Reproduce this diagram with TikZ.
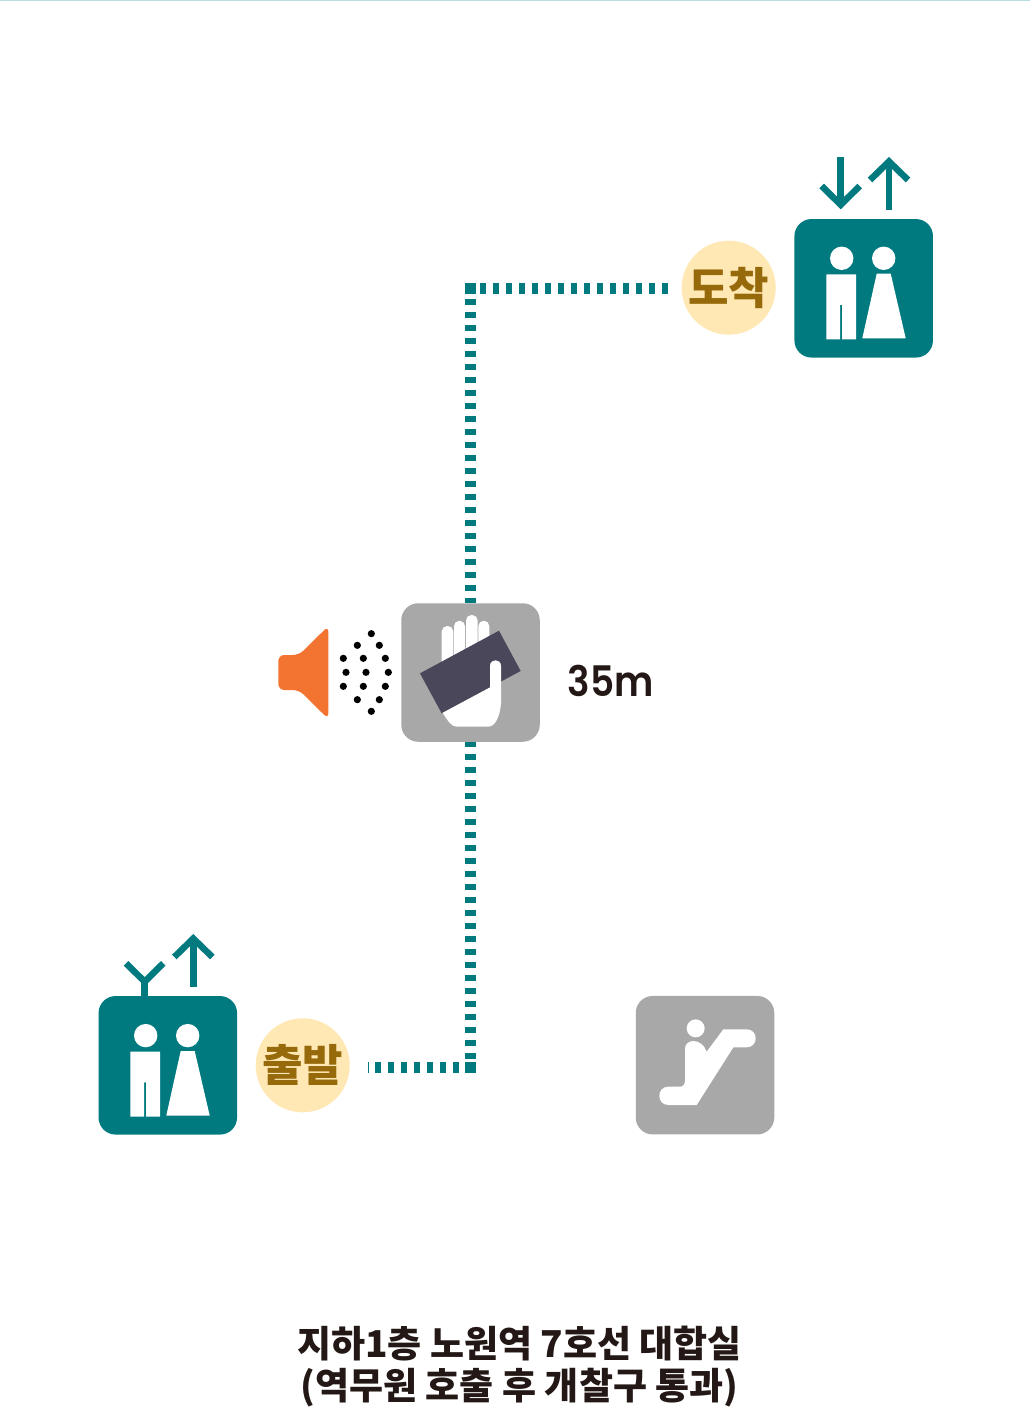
\documentclass[tikz,border=0pt]{standalone}
\usepackage{fontspec}
\usetikzlibrary{backgrounds}
\newfontfamily\korfont{Noto Sans CJK KR Black}
\newfontfamily\numfont{Poppins SemiBold}
\definecolor{tealc}{HTML}{007A7E}
\definecolor{greyc}{HTML}{A9A8A9}
\definecolor{badgec}{HTML}{FFE8B3}
\definecolor{badgetext}{HTML}{96690B}
\definecolor{cardc}{HTML}{4A475A}
\definecolor{orangec}{HTML}{F37430}
\definecolor{inkc}{HTML}{231815}
\definecolor{rulec}{HTML}{B5E0DF}
\tikzset{
  iconbox/.style={rectangle,rounded corners=17pt,minimum size=138.5pt,inner sep=0pt,draw=none},
  badge/.style={circle,minimum size=94pt,inner sep=0pt,fill=badgec,text=badgetext,font=\korfont\fontsize{44}{44}\selectfont},
  cornerdot/.style={rectangle,minimum size=11pt,inner sep=0pt,fill=tealc},
  route/.style={draw=tealc,line width=11pt,dash pattern=on 6pt off 7pt},
  liftarrow/.style={draw=tealc,line width=6.5pt,miter limit=10},
}
\newcommand{\liftpeople}[2]{%
  \begin{scope}[shift={(#1,#2)}]
    \fill[white] (47,39.3) circle[radius=11.7pt];
    \fill[white] (89,39.3) circle[radius=11.7pt];
    \fill[white] (31.6,55.3) -- (61.3,55.3) -- (61.3,120.3) -- (47.3,120.3) -- (47.3,86) -- (45.4,86) -- (45.4,120.3) -- (31.6,120.3) -- cycle;
    \fill[white] (82,54.7) -- (96,54.7) -- (111,119.3) -- (67.6,119.3) -- cycle;
  \end{scope}}
\begin{document}
\begin{tikzpicture}[x=1pt,y=-1pt]
\useasboundingbox (0,0) rectangle (1030,1420);
% icon boxes
\node[iconbox,fill=tealc] (liftTop) at (863.7,288.3) {};
\node[iconbox,fill=tealc] (liftBot) at (167.8,1065.3) {};
\node[iconbox,fill=greyc] (gate) at (470.5,672.5) {};
\node[iconbox,fill=greyc] (esc) at (705,1065.2) {};
% badges
\node[badge] (badgeArrive) at (728.7,287.7) {도착};
\node[badge] (badgeStart) at (302.7,1065.3) {출발};
% route
\node[cornerdot] (cornerA) at (470.5,288.5) {};
\node[cornerdot] (cornerB) at (470.5,1067.5) {};
\coordinate (arriveEnd) at (668,288.5);
\coordinate (startEnd) at (367.5,1067.5);
\begin{scope}[on background layer]
  \fill[white] (0,0) rectangle (1030,1420);
  \fill[rulec] (0,0) rectangle (1030,1);
  \draw[route,dash phase=3.5pt] (cornerA.center) -- (arriveEnd);
  \draw[route,dash phase=2.5pt] (cornerA.center) -- (gate.north);
  \draw[route,dash phase=1pt] (gate.south) -- (cornerB.center);
  \draw[route,dash phase=1.5pt] (cornerB.center) -- (startEnd);
\end{scope}
% people
\liftpeople{794.7}{219}
\liftpeople{98.7}{996.3}
% arrows, top lift
\draw[liftarrow] (840.7,157) -- (840.7,204);
\draw[liftarrow] (821.7,186) -- (840.7,204.8) -- (859.7,186);
\draw[liftarrow] (889,210) -- (889,162);
\draw[liftarrow] (870,180) -- (889,161.5) -- (908,180);
% arrows, bottom lift
\draw[liftarrow] (193.3,986.7) -- (193.3,939);
\draw[liftarrow] (174.3,957) -- (193.3,938.5) -- (212.3,957);
\draw[liftarrow] (144.7,996.5) -- (144.7,981.5);
\draw[liftarrow] (126,963.3) -- (144.7,981.7) -- (163.3,963.3);
% speaker and sound dots, hand
\begin{scope}[shift={(260,590)},x=0.33333pt,y=-0.33333pt]
  \fill[orangec,rounded corners=6pt] (55,195) -- (117,195) -- (205,108) -- (205,387) -- (117,300) -- (55,300) -- cycle;
  \foreach \px/\py in {334/131,292/166,358/166,250/205,310/205,376/205,258/247,318/247,385/247,250/289,310/289,376/289,292/329,358/329,334/364}
    \fill[black] (\px,\py) circle[radius=3.6pt];
  \foreach \xa/\xb/\yt in {545/580/108,582/615/92,618/653/75,655/688/92}
    \fill[white,rounded corners=5.5pt] (\xa,300) rectangle (\xb,\yt);
  \fill[cardc] (717,122) -- (782,243) -- (545,370) -- (480,250) -- cycle;
  \fill[white] (548,368.4) -- (690,292.3) -- (690,228) .. controls (690,205) and (723,205) .. (723,228) -- (723,340) .. controls (720,380) and (705,410) .. (685,410) -- (590,410) .. controls (575,410) and (565,395) .. (548,368.4) -- cycle;
\end{scope}
% escalator
\begin{scope}[shift={(625,985)},x=0.33333pt,y=-0.33333pt]
  \fill[white] (212,130) circle[radius=9pt];
  \fill[white] (365,133) -- (295,133) -- (245,200) .. controls (238,180) and (222,168) .. (205,168) .. controls (190,168) and (180,178) .. (180,192) -- (180,285) .. controls (180,298) and (175,305) .. (165,305) -- (130,305) .. controls (94,305) and (94,360) .. (130,360) -- (215,360) -- (325,187) -- (365,187) .. controls (401,187) and (401,133) .. (365,133) -- cycle;
\end{scope}
% labels
\node[inner sep=0pt,text=inkc,font=\numfont\fontsize{37.5}{40}\selectfont] (distance) at (610.5,680.5) {\scalebox{1}[1.12]{35m}};
\node[inner sep=0pt,text=inkc,align=center,font=\korfont\fontsize{37}{42}\selectfont] (title) at (519.5,1367) {지하1층 노원역 7호선 대합실\\(역무원 호출 후 개찰구 통과)};
\end{tikzpicture}
\end{document}
